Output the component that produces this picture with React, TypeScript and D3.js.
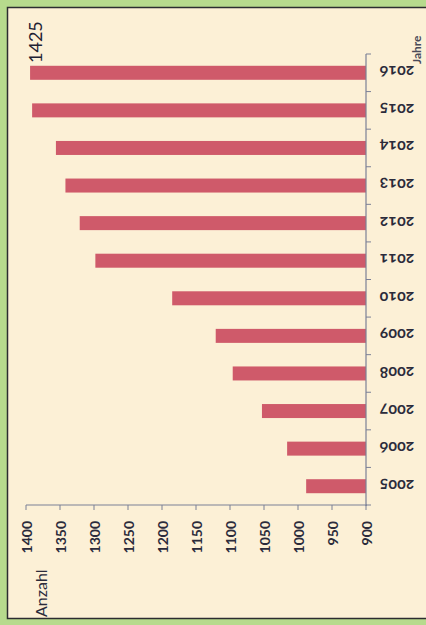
import React from 'react';
import * as d3 from 'd3';

// chart values
const years = ['2005', '2006', '2007', '2008', '2009', '2010', '2011', '2012', '2013', '2014', '2015', '2016'];
const counts = [988, 1016, 1053, 1096, 1121, 1185, 1298, 1321, 1342, 1356, 1391, 1394];
const valueTicks = [900, 950, 1000, 1050, 1100, 1150, 1200, 1250, 1300, 1350, 1400];
const topLabel = '1425';
const valueTitle = 'Anzahl';
const yearTitle = 'Jahre';

const W = 426;
const H = 625;

const App: React.FC = () => {
  // the picture is a bar chart turned on its side
  const x = d3.scaleLinear().domain([900, 1400]).range([366, 26]);
  const y = d3.scaleBand<string>().domain([...years].reverse()).range([54, 505]).padding(0);

  const barH = 14;
  const axisColor = '#7b8096';
  const textColor = '#2b2b3b';
  const font = 'Lato, "Open Sans", sans-serif';

  const bounds = [...y.domain().map(d => y(d) as number), 505];

  return (
    <svg width={W} height={H} style={{ position: 'absolute', left: 0, top: 0 }}>
      {/* green page edge and cream card */}
      <rect x={0} y={0} width={W} height={H} fill="#b7da8d" />
      <rect x={7.5} y={7.5} width={W} height={611} fill="#fcf0d6" stroke="#2c2c30" strokeWidth={1.5} />

      {/* bars */}
      {years.map((yr, i) => (
        <rect
          key={yr}
          x={x(counts[i])}
          y={(y(yr) as number) + y.bandwidth() / 2 - barH / 2}
          width={x(900) - x(counts[i])}
          height={barH}
          fill="#cf5a6a"
        />
      ))}

      {/* category axis */}
      <line x1={366} x2={366} y1={54} y2={506} stroke={axisColor} strokeWidth={1.2} />
      {bounds.map((b, i) => (
        <line key={i} x1={366} x2={371} y1={b} y2={b} stroke={axisColor} strokeWidth={1} />
      ))}
      {years.map(yr => {
        const cy = (y(yr) as number) + y.bandwidth() / 2;
        return (
          <text
            key={yr}
            x={397}
            y={cy}
            transform={`rotate(180, 397, ${cy})`}
            textAnchor="middle"
            dominantBaseline="central"
            fontFamily={font}
            fontSize={16}
            fontWeight={700}
            fill={textColor}
            style={{ fontVariantNumeric: 'oldstyle-nums' }}
          >
            {yr}
          </text>
        );
      })}

      {/* value axis */}
      <line x1={26} x2={367} y1={505} y2={505} stroke={axisColor} strokeWidth={1.2} />
      {valueTicks.map(v => (
        <g key={v}>
          <line x1={x(v)} x2={x(v)} y1={505} y2={510} stroke={axisColor} strokeWidth={1} />
          <text
            x={x(v)}
            y={521}
            transform={`rotate(-90, ${x(v)}, 521)`}
            textAnchor="end"
            dominantBaseline="central"
            fontFamily={font}
            fontSize={14}
            fontWeight={700}
            fill={textColor}
          >
            {v}
          </text>
        </g>
      ))}

      {/* titles */}
      <text
        x={47}
        y={617}
        transform="rotate(-90, 47, 617)"
        fontFamily={font}
        fontSize={16}
        fill={textColor}
      >
        {valueTitle}
      </text>
      <text
        x={42}
        y={63}
        transform="rotate(-90, 42, 63)"
        fontFamily={font}
        fontSize={18}
        fill="#1f2233"
      >
        {topLabel}
      </text>
      <text
        x={421}
        y={64}
        transform="rotate(-90, 421, 64)"
        fontFamily={font}
        fontSize={12}
        fontWeight={700}
        fill="#4a4a58"
      >
        {yearTitle}
      </text>
    </svg>
  );
};

export default App;
